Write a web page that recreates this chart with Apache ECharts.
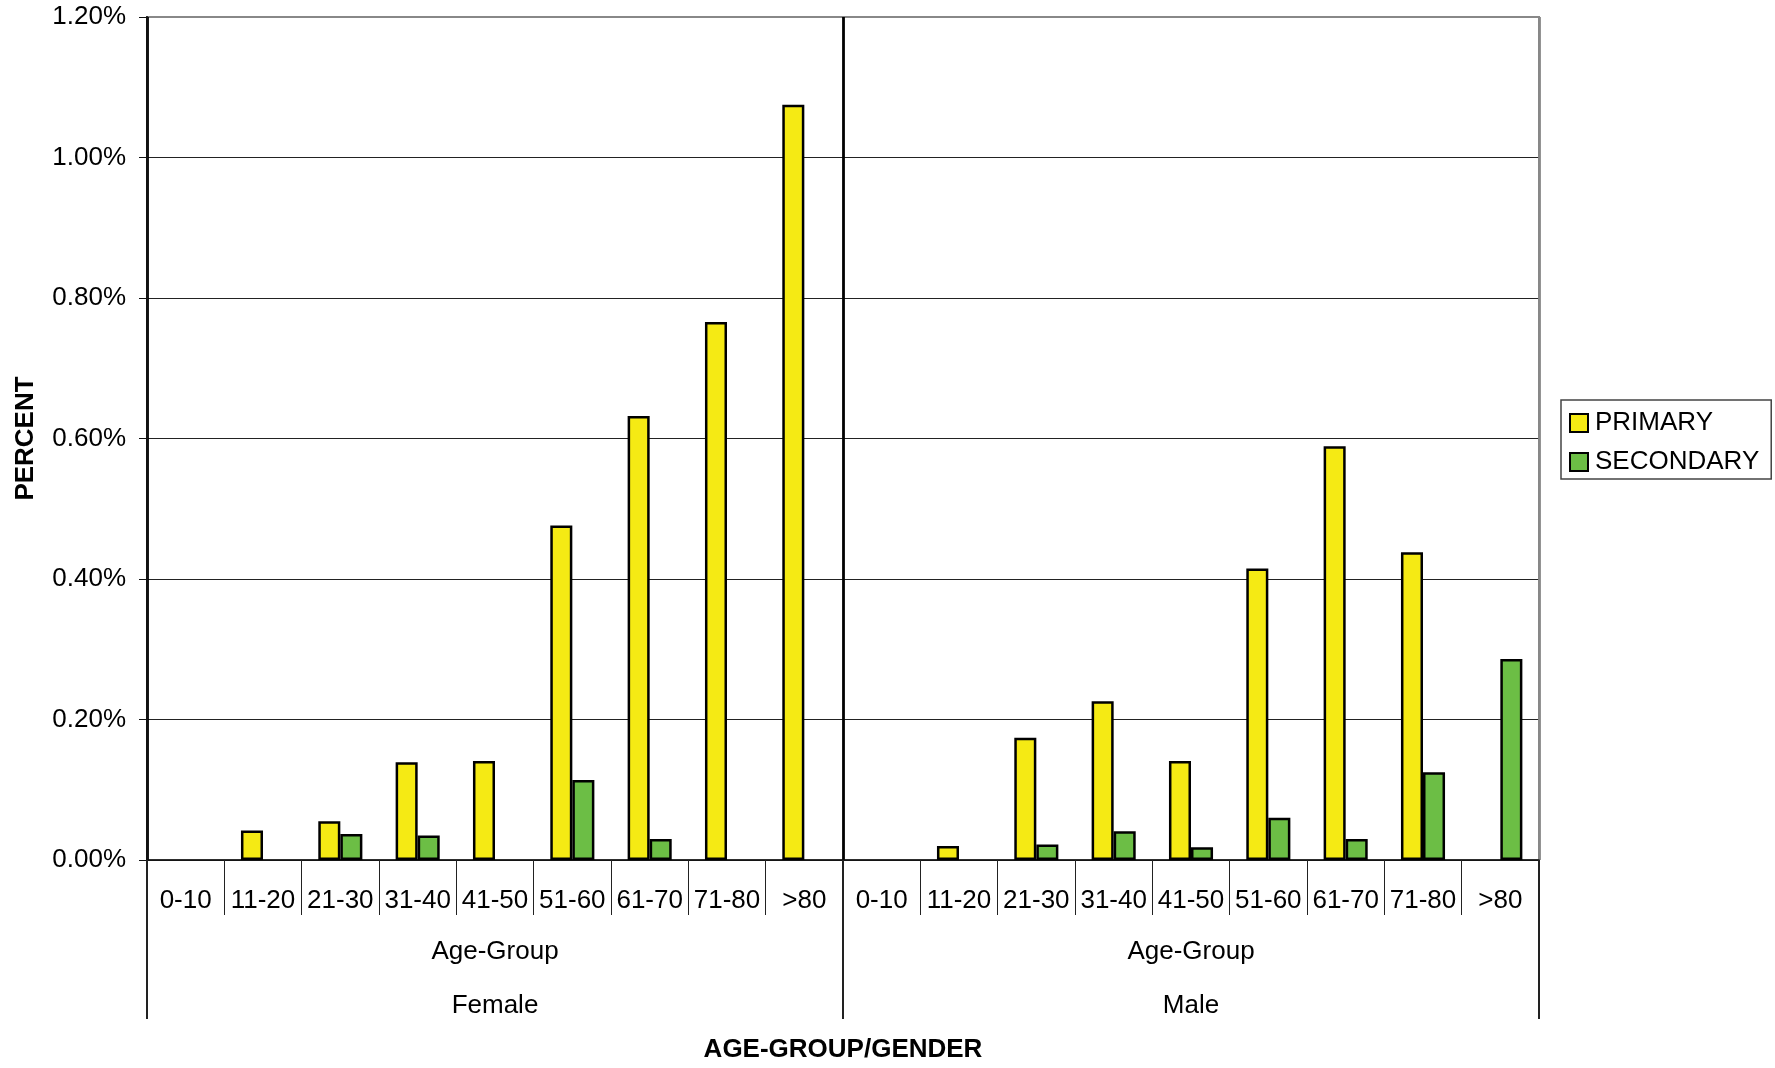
<!DOCTYPE html>
<html>
<head>
<meta charset="utf-8">
<script src="https://cdn.jsdelivr.net/npm/echarts@6/dist/echarts.min.js"></script>
<style>
html,body{margin:0;padding:0;background:#fff;}
#chart{width:1775px;height:1068px;}
</style>
</head>
<body>
<div id="chart"></div>
<script>
const ageGroups = ['0-10', '11-20', '21-30', '31-40', '41-50', '51-60', '61-70', '71-80', '>80'];
const genders = ['Female', 'Male'];
const femalePrimary   = [0, 0.042, 0.055, 0.139, 0.141, 0.476, 0.632, 0.766, 1.075];
const femaleSecondary = [0, 0, 0.037, 0.035, 0, 0.114, 0.030, 0, 0];
const malePrimary     = [0, 0.020, 0.174, 0.226, 0.141, 0.415, 0.589, 0.438, 0];
const maleSecondary   = [0, 0, 0.022, 0.041, 0.018, 0.060, 0.030, 0.125, 0.286];
const seriesNames = ['PRIMARY', 'SECONDARY'];
const groupLabel = 'Age-Group';

const categories = genders.flatMap(g => ageGroups.map(a => g + '|' + a));
const toBars = arr => arr.map(v => (v === 0 ? null : v));
const primaryData = toBars(femalePrimary.concat(malePrimary));
const secondaryData = toBars(femaleSecondary.concat(maleSecondary));

const FONT = 'Arial, "Liberation Sans", sans-serif';
const chart = echarts.init(document.getElementById('chart'));
chart.setOption({
  animation: false,
  backgroundColor: '#fff',
  textStyle: { fontFamily: FONT, color: '#000' },
  grid: {
    left: 147, right: 236, top: 17, bottom: 206,
    show: true, borderColor: '#888', borderWidth: 2, backgroundColor: 'transparent'
  },
  legend: {
    orient: 'vertical',
    left: 1561, top: 400,
    backgroundColor: '#fff',
    borderColor: '#444', borderWidth: 1.5,
    padding: [10, 12, 4, 8],
    itemGap: 13,
    itemWidth: 18, itemHeight: 18,
    icon: 'rect',
    itemStyle: { borderColor: '#000', borderWidth: 2 },
    textStyle: { fontSize: 26, color: '#000', fontFamily: FONT, padding: [0, 0, 0, 2] },
    data: seriesNames
  },
  xAxis: [
    {
      type: 'category',
      data: categories,
      gridIndex: 0,
      axisLine: { show: true, lineStyle: { color: '#111', width: 1.5 } },
      axisTick: { show: true, interval: 0, length: 55, lineStyle: { color: '#222', width: 1 } },
      axisLabel: {
        interval: 0, margin: 28, fontSize: 26, color: '#000', fontFamily: FONT,
        formatter: v => v.split('|')[1]
      },
      splitLine: { show: false },
      name: 'AGE-GROUP/GENDER',
      nameLocation: 'middle',
      nameGap: 177,
      nameTextStyle: { fontSize: 26, fontWeight: 'bold', color: '#000', fontFamily: FONT }
    },
    {
      type: 'category',
      data: genders,
      gridIndex: 0,
      position: 'bottom',
      axisLine: { show: false },
      axisTick: { show: true, interval: 0, length: 159, lineStyle: { color: '#222', width: 2 } },
      axisLabel: {
        interval: 0, margin: 65, color: '#000', fontFamily: FONT,
        formatter: v => '{a|' + groupLabel + '}\n{b|' + v + '}',
        rich: {
          a: { fontSize: 26, lineHeight: 54, fontFamily: FONT, color: '#000' },
          b: { fontSize: 26, lineHeight: 54, fontFamily: FONT, color: '#000' }
        }
      },
      splitLine: { show: true, interval: 0, lineStyle: { color: ['#000', '#000', '#888'], width: 2.8 } }
    }
  ],
  yAxis: {
    type: 'value',
    min: 0, max: 1.2, interval: 0.2,
    axisLine: { show: true, lineStyle: { color: '#111', width: 2 } },
    axisTick: { show: true, length: 8, lineStyle: { color: '#111', width: 1 } },
    axisLabel: { fontSize: 26, color: '#000', margin: 21, fontFamily: FONT, formatter: v => v.toFixed(2) + '%' },
    splitLine: { show: true, lineStyle: { color: ['#222', '#222', '#222', '#222', '#222', '#222', '#888'], width: 1.2 } },
    name: 'PERCENT',
    nameLocation: 'middle',
    nameRotate: 90,
    nameGap: 108,
    nameTextStyle: { fontSize: 26, fontWeight: 'bold', color: '#000', fontFamily: FONT }
  },
  series: [
    {
      name: seriesNames[0], type: 'bar', xAxisIndex: 0,
      data: primaryData,
      barGap: '0%', barCategoryGap: '43%',
      itemStyle: { color: '#F5EA14', borderColor: '#000', borderWidth: 2.5 }
    },
    {
      name: seriesNames[1], type: 'bar', xAxisIndex: 0,
      data: secondaryData,
      barGap: '0%', barCategoryGap: '43%',
      itemStyle: { color: '#6CBE45', borderColor: '#000', borderWidth: 2.5 }
    }
  ]
});
</script>
</body>
</html>
